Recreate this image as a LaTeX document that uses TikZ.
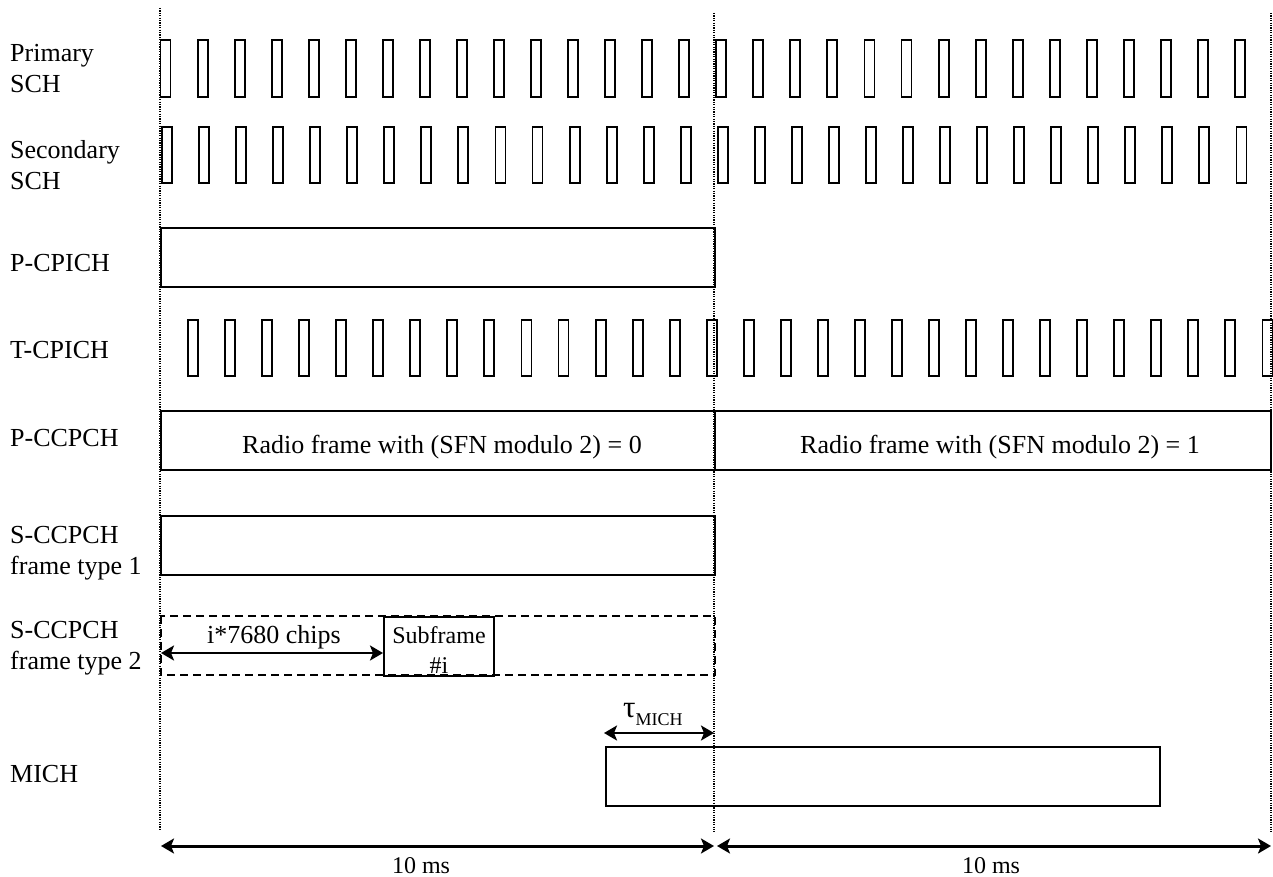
\documentclass[tikz,border=0pt]{standalone}
\usepackage{fontspec}
\setmainfont{Liberation Serif}
\usetikzlibrary{arrows.meta}
\begin{document}
\begin{tikzpicture}[x=1pt,y=-1pt,
  >={Stealth[length=13pt,width=15pt,inset=3pt]},
  lbl/.style={anchor=base west, align=left, inner sep=0pt, font=\fontsize{26}{31}\selectfont},
  txt/.style={anchor=base, inner sep=0pt, font=\fontsize{26}{31}\selectfont},
  box/.style={draw, line width=1.8pt},
  dashbox/.style={draw, line width=1.8pt, dash pattern=on 8pt off 5pt},
  pulse/.style={draw, line width=1.9pt},
  gridline/.style={line width=1.3pt, dash pattern=on 1.2pt off 1.2pt},
  dim/.style={line width=2.8pt, <->},
]
\useasboundingbox (0,0) rectangle (1273,877);

% frame boundaries
\coordinate (g0t) at (160,8);   \coordinate (g0b) at (160,830);
\coordinate (g1t) at (714,13);  \coordinate (g1b) at (714,832);
\coordinate (g2t) at (1271,13); \coordinate (g2b) at (1271,832);
\draw[gridline] (g0t) -- (g0b);
\draw[gridline] (g1t) -- (g1b);
\draw[gridline] (g2t) -- (g2b);

% labels (anchor = baseline of last line)
\node[lbl] (lpsch) at (10,93) {Primary\\SCH};
\node[lbl] (lssch) at (10,190) {Secondary\\SCH};
\node[lbl] (lpcpich) at (10,271) {P-CPICH};
\node[lbl] (ltcpich) at (10,358) {T-CPICH};
\node[lbl] (lpccpch) at (10,446) {P-CCPCH};
\node[lbl] (ls1) at (10,574) {S-CCPCH\\frame type 1};
\node[lbl] (ls2) at (10,669) {S-CCPCH\\frame type 2};
\node[lbl] (lmich) at (10,782) {MICH};

% pulses
\foreach \k in {0,...,29} {
  \draw[pulse] ({160.5+\k*37.05},40) rectangle ++(10,57);
  \draw[pulse] ({162+\k*37.05},127) rectangle ++(10,56);
  \draw[pulse] ({188+\k*37.05},320) rectangle ++(10,56);
}

% P-CPICH
\draw[box] (161,228) rectangle (715,287);
% P-CCPCH
\draw[box] (161,411) rectangle (715,470);
\draw[box] (715,411) rectangle (1271,470);
\node[txt] (rf0) at (442,453) {Radio frame with (SFN modulo 2) = 0};
\node[txt] (rf1) at (1000,453) {Radio frame with (SFN modulo 2) = 1};
% S-CCPCH type 1
\draw[box] (161,516) rectangle (715,575);
% S-CCPCH type 2
\draw[dashbox] (161,616) rectangle (715,675);
\node[draw, line width=1.8pt, minimum width=110pt, minimum height=59pt, anchor=north west, inner sep=0pt] (sf) at (383,616) {};
\node[anchor=base, inner sep=0pt, font=\fontsize{24}{28}\selectfont] (sft) at (439,643) {Subframe};
\node[anchor=base, inner sep=0pt, font=\fontsize{24}{28}\selectfont] (sfi) at (439,673) {\#i};
\coordinate (c0) at (161,653);
\coordinate (c1) at (sf.west |- c0);
\draw[dim] (c0) -- (c1);
\node[txt] (chips) at (274,643) {i*7680 chips};

% MICH
\draw[box] (606,747) rectangle (1160,806);
\coordinate (m0) at (604,733);
\coordinate (m1) at (714,733);
\draw[dim] (m0) -- (m1);
\node[anchor=base west, inner sep=0pt] (tau) at (623,717) {\fontsize{31}{31}\selectfont τ\raisebox{-8pt}{\fontsize{18}{18}\selectfont MICH}};

% bottom 10 ms
\coordinate (b0) at (161,846);
\coordinate (b1) at (714,846);
\coordinate (b2) at (717,846);
\coordinate (b3) at (1271,846);
\draw[dim, line width=3pt] (b0) -- (b1);
\draw[dim, line width=3pt] (b2) -- (b3);
\node[anchor=base, inner sep=0pt, font=\fontsize{24}{28}\selectfont] (ms0) at (421,873) {10 ms};
\node[anchor=base, inner sep=0pt, font=\fontsize{24}{28}\selectfont] (ms1) at (991,873) {10 ms};
\end{tikzpicture}
\end{document}
